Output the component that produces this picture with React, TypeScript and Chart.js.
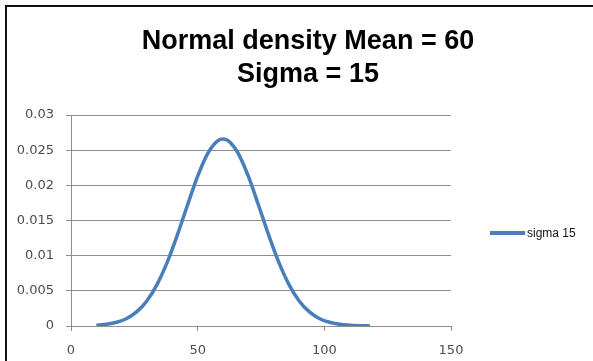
import React, { useEffect, useRef } from "react";
import { Chart, registerables } from "chart.js";

Chart.register(...registerables);

const titleLines = ["Normal density Mean = 60", "Sigma = 15"];
const seriesLabel = "sigma 15";
const xValues = [10, 14, 18, 22, 26, 30, 34, 38, 42, 46, 50, 54, 58, 60, 62, 66, 70, 74, 78, 82, 86, 90, 94, 98, 102, 106, 110, 114, 118];
const density = [
  0.000103, 0.000242, 0.000528, 0.001075, 0.002037, 0.003599, 0.005922, 0.009072, 0.012946, 0.017205,
  0.021297, 0.024551, 0.026361, 0.026596, 0.026361, 0.024551, 0.021297, 0.017205, 0.012946, 0.009072,
  0.005922, 0.003599, 0.002037, 0.001075, 0.000528, 0.000242, 0.000103, 0.000041, 0.000015,
];
const xTicks = [0, 50, 100, 150];
const yTicks = [0, 0.005, 0.01, 0.015, 0.02, 0.025, 0.03];

const LINE_COLOR = "#4A7EBB";
const GRID_COLOR = "#8e8e8e";
const LABEL_COLOR = "#4d4d4d";
const TICK_FONT = "'DejaVu Sans', Verdana, sans-serif";

export default function App() {
  const canvasRef = useRef<HTMLCanvasElement | null>(null);

  useEffect(() => {
    const canvas = canvasRef.current;
    if (!canvas) return;
    const chart = new Chart(canvas, {
      type: "scatter",
      data: {
        datasets: [
          {
            label: seriesLabel,
            data: xValues.map((x, i) => ({ x, y: density[i] })),
            showLine: true,
            borderColor: LINE_COLOR,
            backgroundColor: LINE_COLOR,
            borderWidth: 3.5,
            pointRadius: 0,
            cubicInterpolationMode: "monotone",
            borderCapStyle: "butt",
            fill: false,
          },
        ],
      },
      options: {
        responsive: false,
        maintainAspectRatio: false,
        animation: false,
        layout: { padding: { left: 0, right: 142, top: 115, bottom: 0 } },
        plugins: {
          legend: { display: false },
          title: { display: false },
          tooltip: { enabled: false },
        },
        scales: {
          x: {
            type: "linear",
            min: xTicks[0],
            max: xTicks[xTicks.length - 1],
            afterBuildTicks: (scale: any) => {
              scale.ticks = xTicks.map((v) => ({ value: v }));
            },
            afterFit: (scale: any) => {
              scale.height = 35;
            },
            grid: {
              drawOnChartArea: false,
              drawTicks: true,
              tickLength: 5,
              color: GRID_COLOR,
            },
            border: { display: true, color: GRID_COLOR, width: 1 },
            ticks: {
              padding: 12,
              color: LABEL_COLOR,
              font: { family: TICK_FONT, size: 13 },
              maxRotation: 0,
              callback: (v: any) => String(v),
            },
          },
          y: {
            type: "linear",
            min: yTicks[0],
            max: yTicks[yTicks.length - 1],
            afterBuildTicks: (scale: any) => {
              scale.ticks = yTicks.map((v) => ({ value: v }));
            },
            afterFit: (scale: any) => {
              scale.width = 71;
            },
            grid: {
              drawOnChartArea: true,
              drawTicks: true,
              tickLength: 5,
              color: GRID_COLOR,
            },
            border: { display: true, color: GRID_COLOR, width: 1 },
            ticks: {
              padding: 12,
              color: LABEL_COLOR,
              font: { family: TICK_FONT, size: 13 },
              callback: (v: any) => String(Number(Number(v).toFixed(3))),
            },
          },
        },
      },
    });
    return () => chart.destroy();
  }, []);

  return (
    <div
      style={{
        position: "absolute",
        left: 0,
        top: 0,
        width: 593,
        height: 361,
        overflow: "hidden",
        background: "#fff",
      }}
    >
      <div
        style={{
          position: "absolute",
          left: 5,
          top: 5,
          width: 700,
          height: 500,
          borderTop: "2px solid #111",
          borderLeft: "2px solid #111",
        }}
      />
      <canvas
        ref={canvasRef}
        width={593}
        height={361}
        style={{ position: "absolute", left: 0, top: 0, width: 593, height: 361 }}
      />
      <div
        style={{
          position: "absolute",
          left: 108,
          width: 400,
          top: 24,
          textAlign: "center",
          fontFamily: "'Liberation Sans', Arial, sans-serif",
          fontWeight: "bold",
          fontSize: 27,
          lineHeight: "33px",
          color: "#000",
        }}
      >
        {titleLines.map((t) => (
          <div key={t}>{t}</div>
        ))}
      </div>
      <div
        style={{
          position: "absolute",
          left: 490,
          top: 224,
          height: 18,
          display: "flex",
          alignItems: "center",
          fontFamily: "'Liberation Sans', Arial, sans-serif",
          fontSize: 12,
          color: "#111",
          whiteSpace: "nowrap",
        }}
      >
        <span style={{ display: "inline-block", width: 35, height: 3.5, background: LINE_COLOR, marginRight: 2 }} />
        <span>{seriesLabel}</span>
      </div>
    </div>
  );
}
